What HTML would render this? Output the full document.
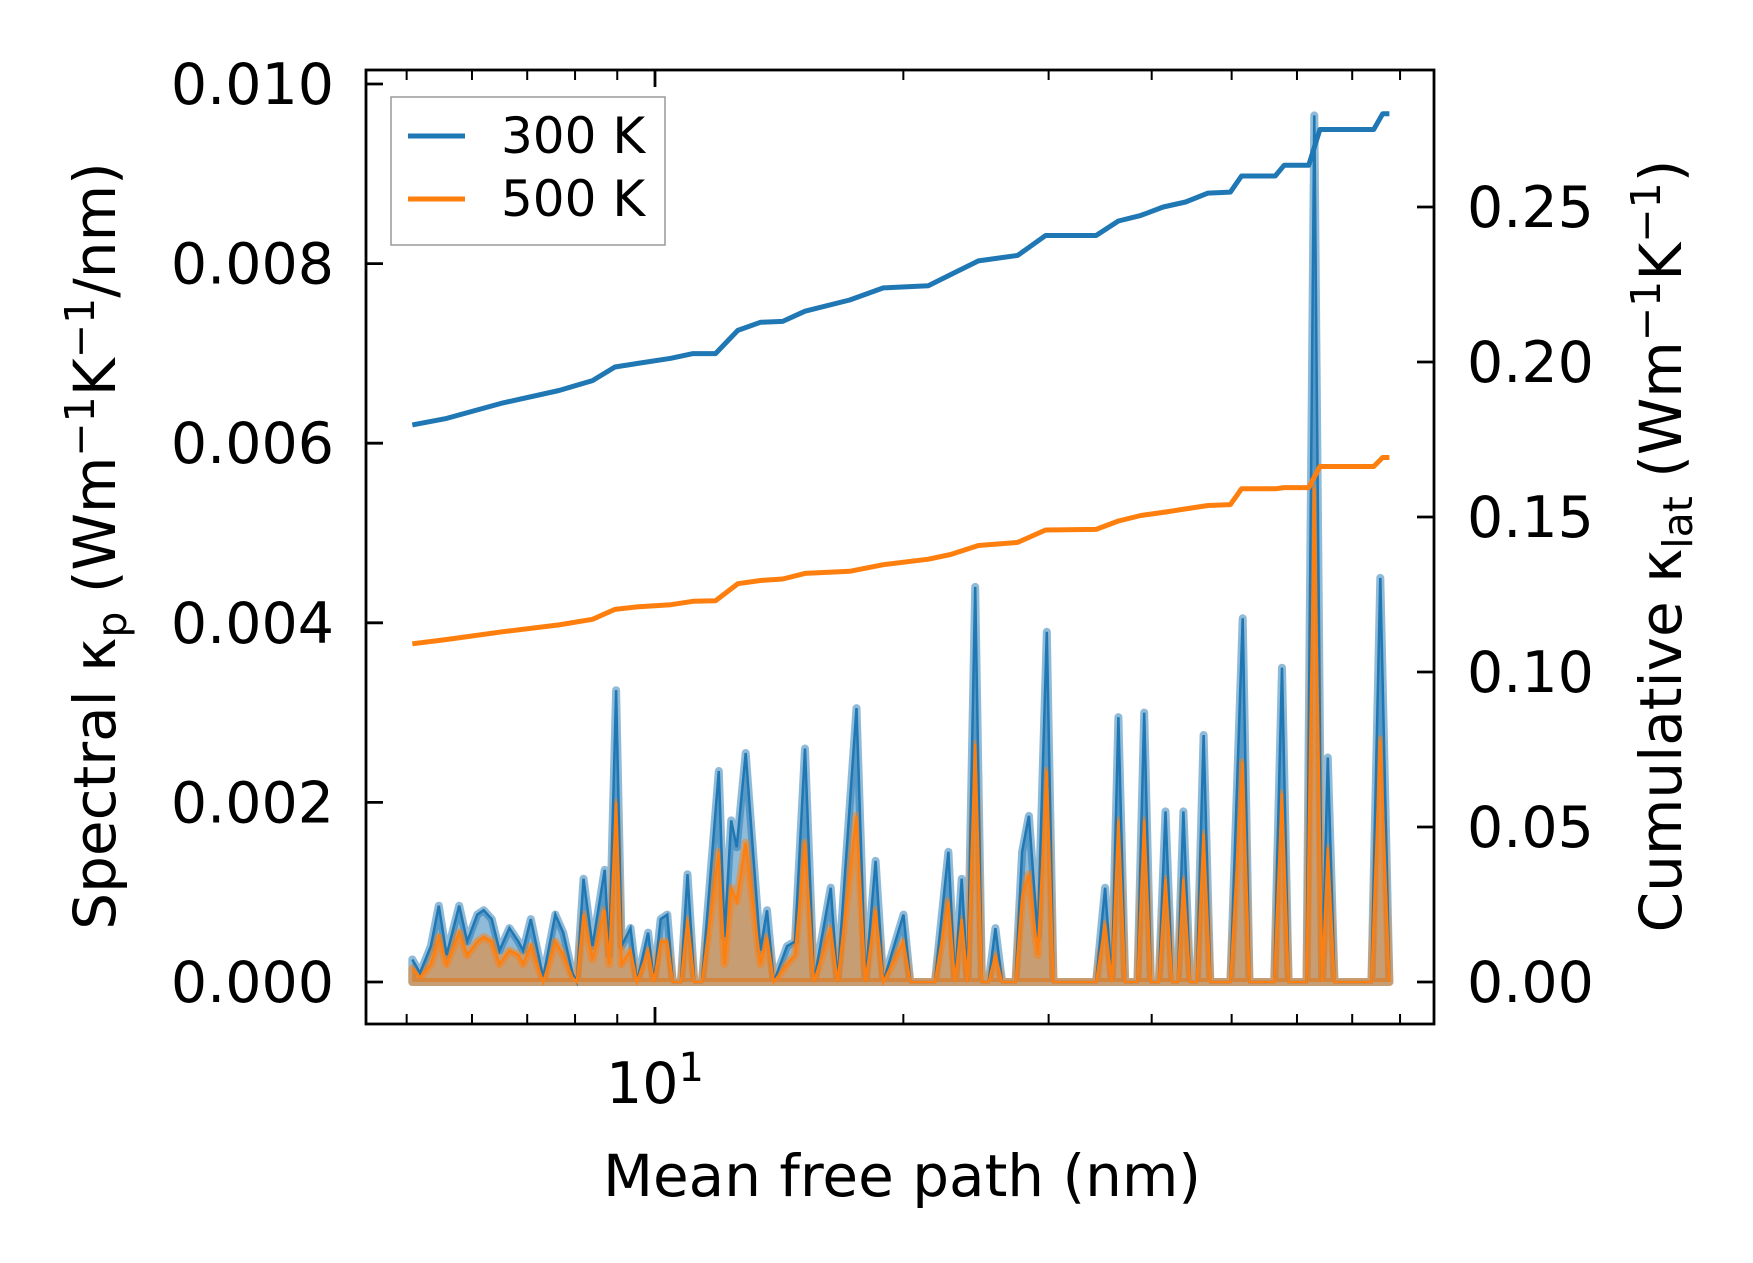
<!DOCTYPE html>
<html><head><meta charset="utf-8"><style>
html,body{margin:0;padding:0;background:#fff}
svg{display:block;font-family:"DejaVu Sans","Liberation Sans",sans-serif}
</style></head><body>
<svg id="chart" width="1753" height="1263" viewBox="0 0 1753 1263" xmlns="http://www.w3.org/2000/svg">
<rect width="1753" height="1263" fill="#fff"/>
<g id="marks"></g>
<g id="axes"></g>
</svg>
<script>
const mfp=[5.08,5.19,5.35,5.47,5.59,5.79,5.92,6.09,6.20,6.34,6.48,6.66,6.83,6.92,7.07,7.32,7.57,7.74,7.94,8.04,8.19,8.40,8.69,8.80,8.97,9.11,9.34,9.51,9.81,9.97,10.16,10.35,10.51,10.75,10.95,11.16,11.40,11.95,12.14,12.37,12.56,12.88,13.42,13.67,13.93,14.46,14.78,15.20,15.58,16.33,16.64,17.55,17.99,18.51,18.91,20.01,20.39,21.84,22.68,23.10,23.54,23.92,24.44,24.90,25.37,25.86,26.35,27.35,27.86,28.39,29.11,29.85,30.41,34.25,35.12,35.78,36.45,37.15,38.44,39.17,39.91,40.80,41.57,42.36,43.02,43.70,44.53,45.37,46.24,47.11,49.83,51.57,52.55,56.30,57.54,58.61,61.61,62.98,64.37,65.39,66.62,73.86,75.72,77.65];
const spec300=[0.25,0.1,0.4,0.85,0.3,0.85,0.45,0.75,0.8,0.7,0.35,0.6,0.45,0.35,0.7,0.05,0.75,0.55,0.1,0,1.15,0.4,1.25,0.3,3.25,0.4,0.6,0,0.55,0,0.7,0.75,0,0,1.2,0,0,2.35,0.5,1.8,1.5,2.55,0.35,0.8,0,0.4,0.45,2.6,0,1.05,0,3.05,0,1.35,0,0.75,0,0,1.45,0,1.15,0,4.4,0,0,0.6,0,0,1.45,1.85,0.5,3.9,0,0,1.05,0,2.95,0,0,3.0,0,0,1.9,0,0,1.9,0,0,2.75,0,0,4.05,0,0,3.5,0,0,9.65,0,2.5,0,0,4.5,0];
const spec500=[0.15,0.05,0.2,0.5,0.2,0.55,0.3,0.45,0.5,0.45,0.2,0.35,0.3,0.2,0.4,0,0.45,0.3,0.05,0,0.75,0.25,0.8,0.2,2.0,0.2,0.35,0,0.35,0,0.45,0.45,0,0,0.7,0,0,1.45,0.2,1.05,0.9,1.55,0.2,0.5,0,0.2,0.3,1.55,0,0.6,0,1.85,0,0.8,0,0.45,0,0,0.9,0,0.7,0,2.65,0,0,0.3,0,0,0.95,1.2,0.3,2.35,0,0,0.65,0,1.8,0,0,1.8,0,0,1.15,0,0,1.15,0,0,1.65,0,0,2.45,0,0,2.1,0,0,5.5,0,1.5,0,0,2.7,0];
const cumMfp=[5.08,5.59,6.54,7.65,8.40,8.94,9.51,10.45,11.12,11.84,12.60,13.42,14.28,15.20,17.22,18.91,21.44,22.82,24.66,27.52,29.75,34.25,36.45,38.81,41.30,43.97,46.81,49.83,51.40,56.47,57.90,62.00,63.97,74.32,76.21,77.65];
const cum300=[.1797,.1818,.1868,.1908,.194,.1984,.1995,.2012,.2027,.2027,.2102,.2128,.2131,.2164,.2200,.2239,.2246,.2282,.2326,.2344,.2408,.2408,.2455,.2473,.2500,.2516,.2545,.2548,.2600,.2600,.2635,.2635,.2750,.2750,.2801,.2801];
const cum500=[.1091,.1105,.1130,.1152,.1170,.1202,.1210,.1217,.1228,.1230,.1285,.1295,.1300,.1318,.1325,.1346,.1364,.1379,.1408,.1418,.1458,.1460,.1487,.1505,.1515,.1526,.1537,.1540,.1591,.1591,.1595,.1595,.1663,.1663,.1692,.1692];
const leftTicks=[0,0.002,0.004,0.006,0.008,0.010];
const leftLabels=["0.000","0.002","0.004","0.006","0.008","0.010"];
const rightTicks=[0,0.05,0.10,0.15,0.20,0.25];
const rightLabels=["0.00","0.05","0.10","0.15","0.20","0.25"];
const minorX=[5,6,7,8,9,20,30,40,50,60,70,80];

const L=366,R=1434,T=70,B=1024;
const x=v=>655+825*Math.log10(v/10);
const yL=v=>982-v/0.002*179.6;
const yR=v=>982-v/0.05*155;
const NS="http://www.w3.org/2000/svg";
function mk(tag,attrs,parent){const e=document.createElementNS(NS,tag);for(const k in attrs)e.setAttribute(k,attrs[k]);parent.appendChild(e);return e;}
const marks=document.getElementById('marks'),axes=document.getElementById('axes');

function specPath(vals){return mfp.map((m,i)=>(i?'L':'M')+x(m).toFixed(1)+' '+yL(vals[i]/1000).toFixed(1)).join(' ');}
function fillPath(vals){return specPath(vals)+' L'+x(mfp[mfp.length-1]).toFixed(1)+' '+yL(0)+' L'+x(mfp[0]).toFixed(1)+' '+yL(0)+' Z';}
const f3=mk('path',{d:fillPath(spec300),fill:'#1f77b4','fill-opacity':0.5,stroke:'#1f77b4','stroke-opacity':0.5,'stroke-width':8,'stroke-linejoin':'round'},marks);


const f5=mk('path',{d:fillPath(spec500),fill:'#ff7f0e','fill-opacity':0.5,stroke:'#ff7f0e','stroke-opacity':0.5,'stroke-width':8,'stroke-linejoin':'round'},marks);


const l3=mk('path',{d:specPath(spec300),fill:'none',stroke:'#1f77b4','stroke-width':2.5},marks);


const l5=mk('path',{d:specPath(spec500),fill:'none',stroke:'#ff7f0e','stroke-width':2.5},marks);


function cumPath(vals){return cumMfp.map((m,i)=>(i?'L':'M')+x(m).toFixed(1)+' '+yR(vals[i]).toFixed(1)).join(' ');}
const c3=mk('path',{d:cumPath(cum300),fill:'none',stroke:'#1f77b4','stroke-width':5,'stroke-linejoin':'round'},marks);


const c5=mk('path',{d:cumPath(cum500),fill:'none',stroke:'#ff7f0e','stroke-width':5,'stroke-linejoin':'round'},marks);



const fr=mk('rect',{x:L,y:T,width:R-L,height:B-T,fill:'none',stroke:'#000','stroke-width':2.8},axes);


leftTicks.forEach((v,i)=>{
  const tk=mk('line',{x1:L,x2:L+17,y1:yL(v),y2:yL(v),stroke:'#000','stroke-width':2.8},axes);
  
  
  const t=mk('text',{x:334,y:yL(v)+20,'text-anchor':'end','font-size':57,fill:'#000'},axes);
  t.textContent=leftLabels[i];
  
  
});
rightTicks.forEach((v,i)=>{
  const tk=mk('line',{x1:R-17,x2:R,y1:yR(v),y2:yR(v),stroke:'#000','stroke-width':2.8},axes);
  
  
  const t=mk('text',{x:1467,y:yR(v)+20,'text-anchor':'start','font-size':57,fill:'#000'},axes);
  t.textContent=rightLabels[i];
  
  
});
[[B,-1],[T,1]].forEach(([yy,dir])=>{
  const mj=mk('line',{x1:x(10),x2:x(10),y1:yy,y2:yy+dir*17,stroke:'#000','stroke-width':2.8},axes);
  
  
  minorX.forEach(v=>{
    const mn=mk('line',{x1:x(v),x2:x(v),y1:yy,y2:yy+dir*10,stroke:'#000','stroke-width':2},axes);
    
    
  });
});
</script>
<svg style="position:absolute;left:0;top:0" width="1753" height="1263" xmlns="http://www.w3.org/2000/svg" font-family="DejaVu Sans, Liberation Sans, sans-serif">
<text x="655" y="1103" text-anchor="middle" font-size="57">10<tspan dy="-22" font-size="40">1</tspan></text>
<text x="902" y="1196" text-anchor="middle" font-size="58">Mean free path (nm)</text>
<text transform="translate(115,546) rotate(-90)" text-anchor="middle" font-size="58">Spectral κ<tspan font-size="41" dy="11">p</tspan><tspan dy="-11"> (Wm</tspan><tspan font-size="41" dy="-21">−1</tspan><tspan dy="21">K</tspan><tspan font-size="41" dy="-21">−1</tspan><tspan dy="21">/nm)</tspan></text>
<text transform="translate(1681,546) rotate(-90)" text-anchor="middle" font-size="58">Cumulative κ<tspan font-size="41" dy="11">lat</tspan><tspan dy="-11"> (Wm</tspan><tspan font-size="41" dy="-21">−1</tspan><tspan dy="21">K</tspan><tspan font-size="41" dy="-21">−1</tspan><tspan dy="21">)</tspan></text>
<g>
<rect x="391" y="97" width="274" height="148" fill="#fff" fill-opacity="0.8" stroke="#999" stroke-width="1.5"/>
<line x1="408" x2="465" y1="136" y2="136" stroke="#1f77b4" stroke-width="5"/>
<text x="501" y="153" font-size="50">300 K</text>
<line x1="408" x2="465" y1="199" y2="199" stroke="#ff7f0e" stroke-width="5"/>
<text x="501" y="216" font-size="50">500 K</text>
</g>
</svg>
</body></html>
